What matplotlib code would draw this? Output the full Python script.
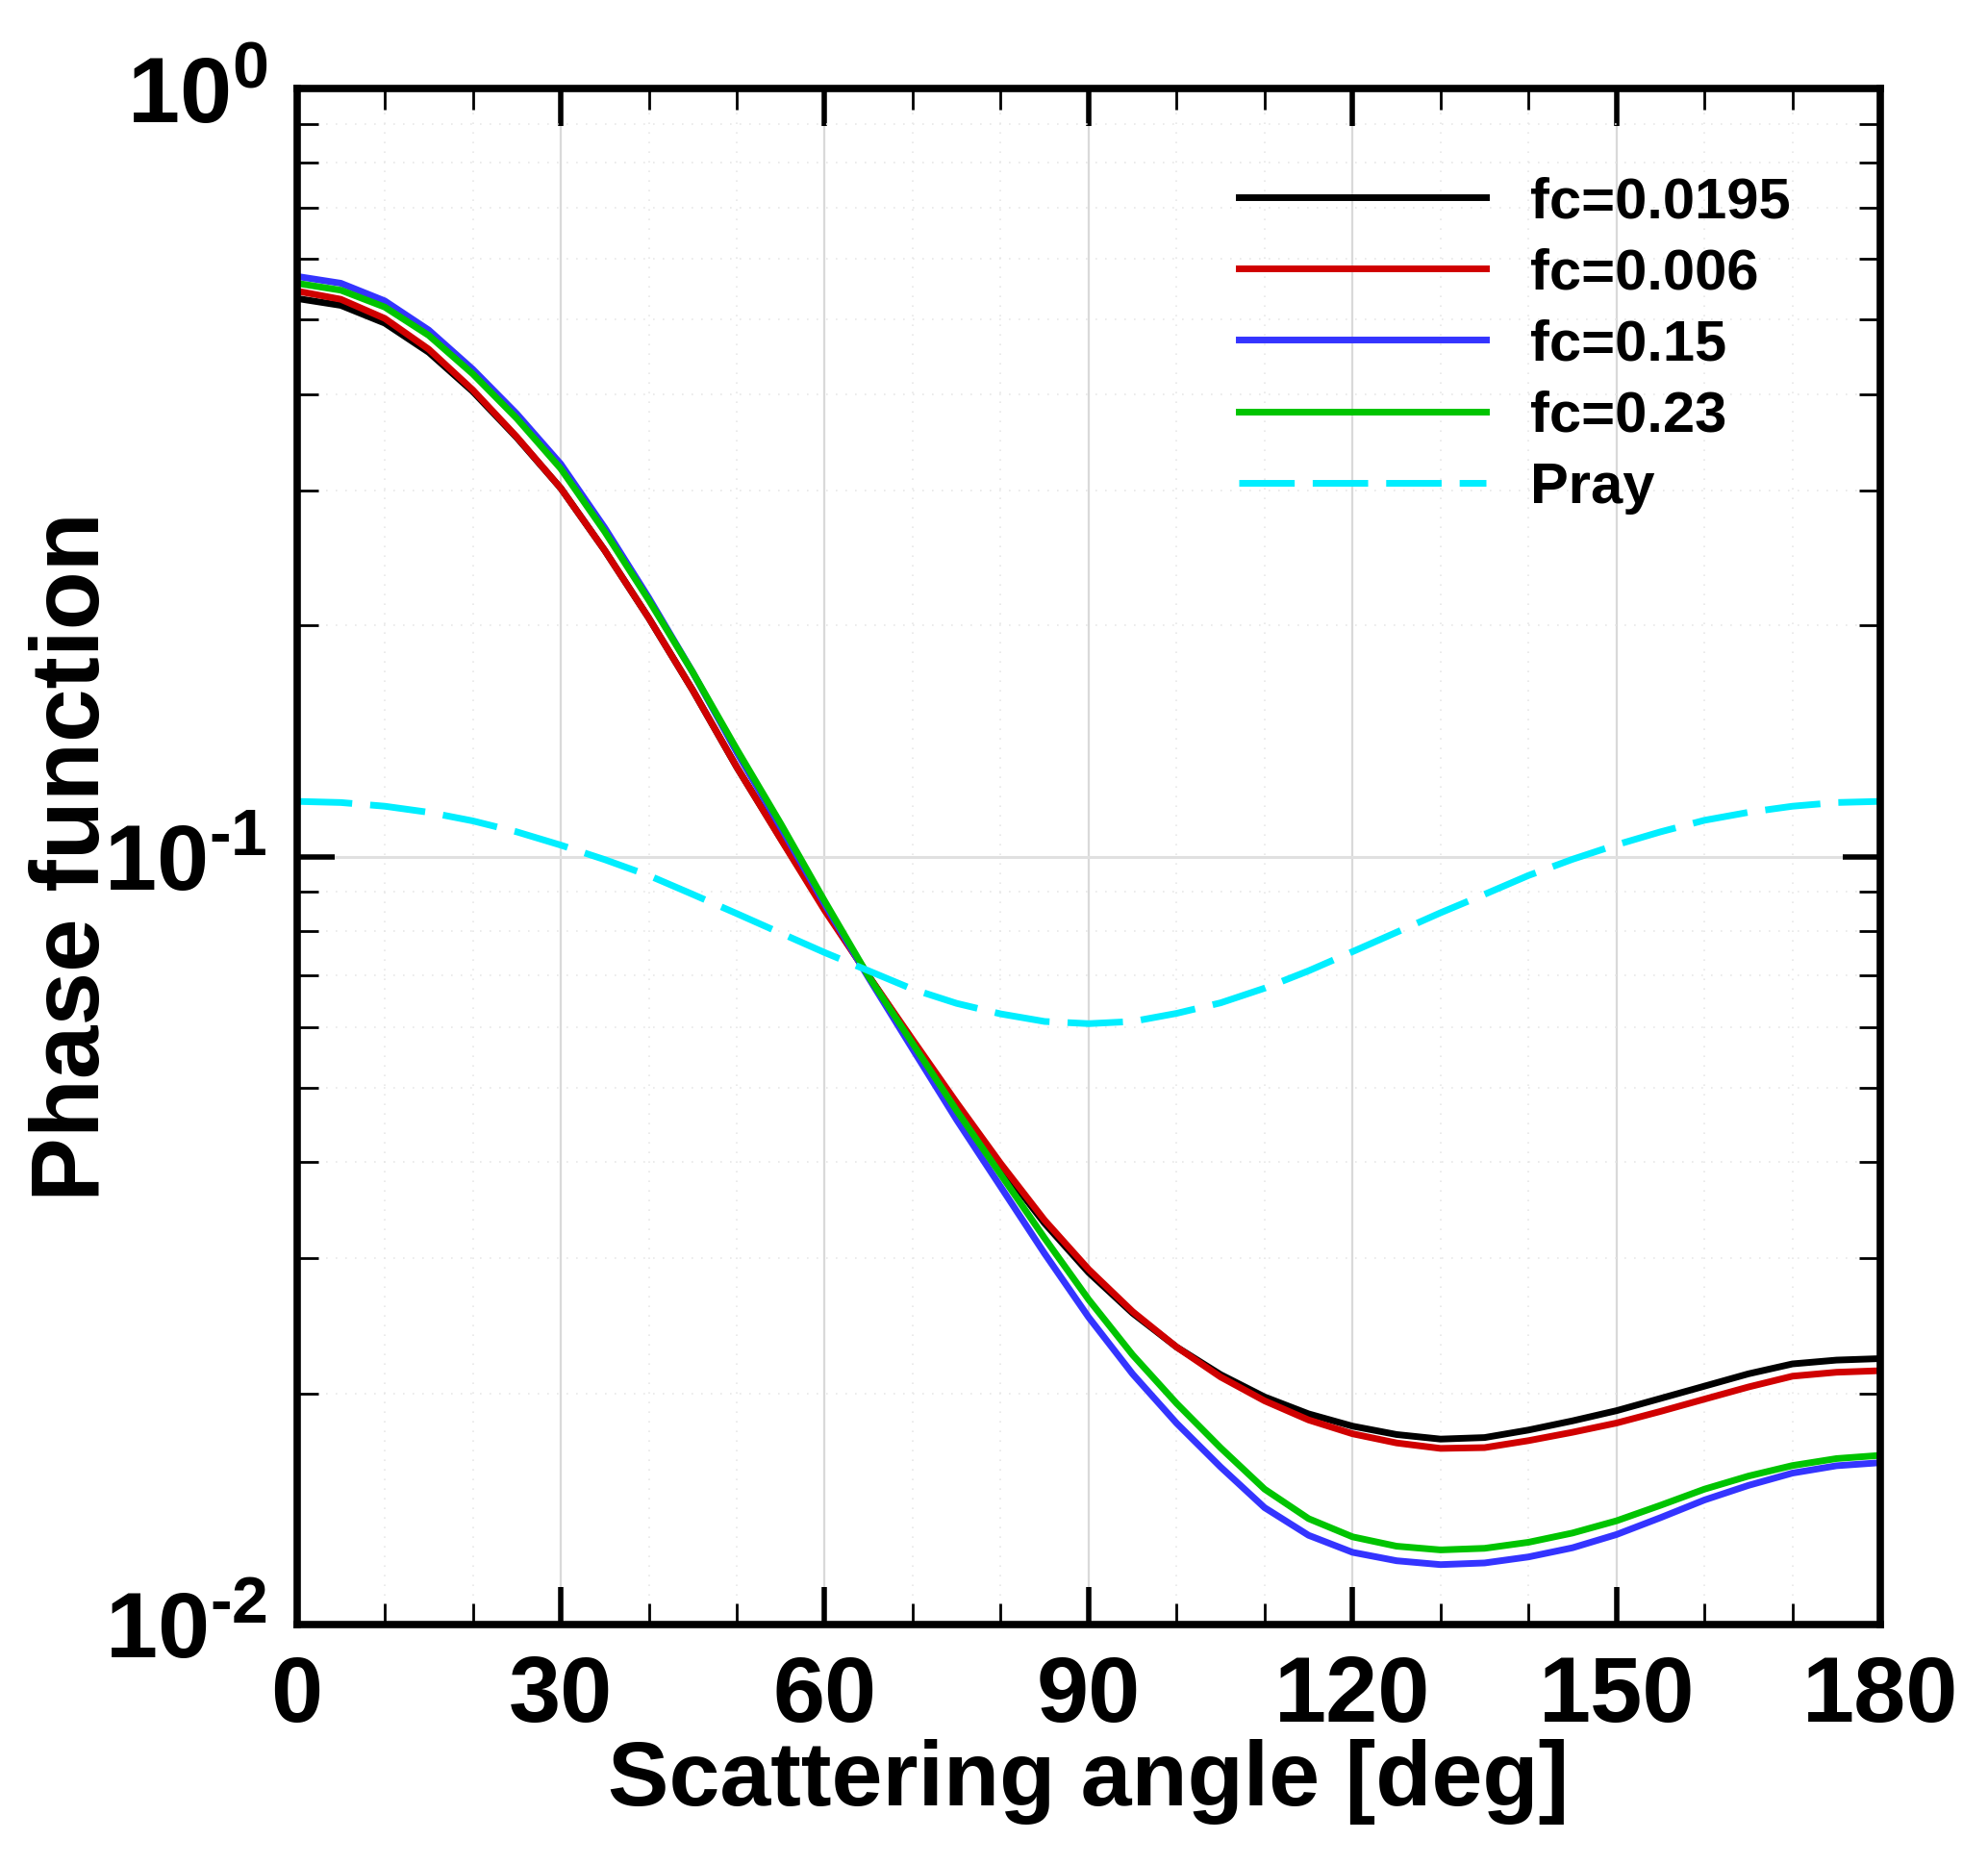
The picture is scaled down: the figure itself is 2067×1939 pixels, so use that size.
import matplotlib
matplotlib.use("Agg")
import matplotlib.pyplot as plt
from matplotlib.ticker import MultipleLocator, LogLocator, NullFormatter

plt.rcParams['font.family'] = ['Liberation Sans', 'DejaVu Sans']
plt.rcParams['font.weight'] = 'bold'
plt.rcParams['mathtext.fontset'] = 'custom'
plt.rcParams['mathtext.rm'] = 'Liberation Sans:bold'
plt.rcParams['mathtext.it'] = 'Liberation Sans:bold:italic'
plt.rcParams['mathtext.bf'] = 'Liberation Sans:bold'

# scattering angle [deg], values every 5 deg
angle = [0, 5, 10, 15, 20, 25, 30, 35, 40, 45, 50, 55, 60, 65, 70, 75, 80, 85, 90,
         95, 100, 105, 110, 115, 120, 125, 130, 135, 140, 145, 150, 155, 160, 165,
         170, 175, 180]

fc_0195 = [0.533, 0.5221, 0.4950, 0.4535, 0.4033, 0.3512, 0.3018, 0.2504, 0.2045,
           0.1647, 0.1308, 0.1056, 0.0855, 0.0699, 0.0575, 0.04748, 0.03948,
           0.03330, 0.02874, 0.02544, 0.02298, 0.02116, 0.01979, 0.01881, 0.01813,
           0.01768, 0.01744, 0.01752, 0.01792, 0.01842, 0.01899, 0.01970, 0.02044,
           0.02121, 0.02185, 0.02210, 0.02220]

fc_006 = [0.5450, 0.5317, 0.5020, 0.4577, 0.4052, 0.3520, 0.3018, 0.2504, 0.2045,
          0.1647, 0.1308, 0.1054, 0.0851, 0.0699, 0.05774, 0.04781, 0.03985,
          0.03361, 0.02901, 0.02556, 0.02298, 0.02101, 0.01956, 0.01847, 0.01772,
          0.01724, 0.01696, 0.01700, 0.01736, 0.01780, 0.01830, 0.01895, 0.01966,
          0.02039, 0.02106, 0.02131, 0.02141]

fc_015 = [0.5695, 0.5579, 0.5291, 0.4848, 0.4311, 0.3772, 0.3245, 0.2680, 0.2173,
          0.1738, 0.1368, 0.1092, 0.0867, 0.0695, 0.05614, 0.04542, 0.03717,
          0.03041, 0.02513, 0.02120, 0.01829, 0.01604, 0.01420, 0.01307, 0.01242,
          0.01211, 0.01197, 0.01203, 0.01225, 0.01259, 0.01310, 0.01378, 0.01453,
          0.01518, 0.01575, 0.01610, 0.01625]

fc_023 = [0.5579, 0.5464, 0.5194, 0.4771, 0.4251, 0.3720, 0.3200, 0.2649, 0.2158,
          0.1738, 0.1380, 0.1104, 0.0875, 0.0698, 0.0571, 0.0467, 0.03857,
          0.03185, 0.02650, 0.02245, 0.01941, 0.01699, 0.01501, 0.01374, 0.01301,
          0.01265, 0.01251, 0.01257, 0.01280, 0.01316, 0.01365, 0.01430, 0.01501,
          0.01561, 0.01611, 0.01645, 0.01661]

pray = [0.1180, 0.1176, 0.1163, 0.1142, 0.1113, 0.1077, 0.1035, 0.0991, 0.0945,
        0.0893, 0.0843, 0.0795, 0.0750, 0.0710, 0.0672, 0.0644, 0.0624, 0.0610,
        0.0606, 0.0610, 0.0625, 0.0645, 0.0674, 0.0710, 0.0752, 0.0797, 0.0845,
        0.0893, 0.0945, 0.0992, 0.1036, 0.1077, 0.1115, 0.1142, 0.1163, 0.1176,
        0.1180]

fig = plt.figure(figsize=(20.67, 19.39), dpi=100)
ax = fig.add_axes([0.1493, 0.1289, 0.7966, 0.8236])

lw = 5
ax.plot(angle, fc_0195, color='black', lw=lw, label='fc=0.0195')
ax.plot(angle, fc_006, color='#d00000', lw=lw, label='fc=0.006')
ax.plot(angle, fc_015, color='#3434ff', lw=lw, label='fc=0.15')
ax.plot(angle, fc_023, color='#00c400', lw=lw, label='fc=0.23')
ax.plot(angle, pray, color='#00eeff', lw=lw, dashes=(8.3, 2.7), label='Pray')

ax.set_yscale('log')
ax.set_xlim(0, 180)
ax.set_ylim(0.01, 1)

ax.xaxis.set_major_locator(MultipleLocator(30))
ax.xaxis.set_minor_locator(MultipleLocator(10))
ax.set_yticks([0.01, 0.1, 1])
# plain hyphen in the exponent, as in the original figure
ax.set_yticklabels(['$\\mathrm{10^{\u20102}}$', '$\\mathrm{10^{\u20101}}$',
                    '$\\mathrm{10^{0}}$'])
ax.yaxis.set_minor_locator(LogLocator(base=10, subs=range(2, 10)))
ax.yaxis.set_minor_formatter(NullFormatter())

ax.set_axisbelow(True)
ax.grid(which='major', axis='x', color='#d9d9d9', lw=1.6)
ax.grid(which='major', axis='y', color='#e0e0e0', lw=2.2)
ax.grid(which='minor', color='#e8e8e8', lw=1.2, linestyle=(0, (1, 5)))

for s in ax.spines.values():
    s.set_linewidth(5.5)

ax.tick_params(which='both', direction='in', top=True, right=True)
ax.tick_params(which='major', length=28, width=4, labelsize=70, pad=22)
ax.tick_params(which='minor', length=16, width=2)

ax.set_xlabel('Scattering angle [deg]', fontsize=68.5, fontweight='bold', labelpad=-1)
ax.set_ylabel('Phase function', fontsize=72, fontweight='bold')
ax.yaxis.set_label_coords(-0.112, 0.5)

ax.legend(loc='upper left', bbox_to_anchor=(0.595, 0.943), frameon=False,
          fontsize=43, handlelength=4.3, handletextpad=0.77, labelspacing=0.32,
          borderpad=0, borderaxespad=0)

fig.savefig('out.png', dpi=100)
